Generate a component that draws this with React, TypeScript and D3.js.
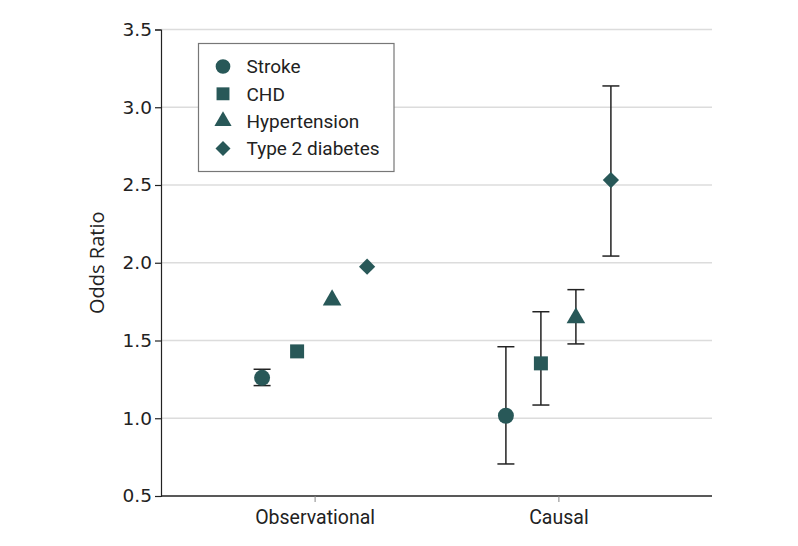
import React, { useEffect, useRef } from 'react';
import * as d3 from 'd3';

const groups = ['Observational', 'Causal'];
const outcomes = ['Stroke', 'CHD', 'Hypertension', 'Type 2 diabetes'];
const observationalOR = [1.26, 1.43, 1.76, 1.975];
const observationalLow = [1.21, null, null, null];
const observationalHigh = [1.315, null, null, null];
const causalOR = [1.016, 1.353, 1.645, 2.532];
const causalLow = [0.706, 1.085, 1.478, 2.043];
const causalHigh = [1.46, 1.685, 1.827, 3.137];
const yTicks = [0.5, 1.0, 1.5, 2.0, 2.5, 3.0, 3.5];

const MARK = '#285858';
const symbols = [d3.symbolCircle, d3.symbolSquare, d3.symbolTriangle, d3.symbolSquare];
const sizes = [200, 196, 150, 132];
const rotations = [0, 0, 0, 45];

const App: React.FC = () => {
  const svgRef = useRef<SVGSVGElement>(null);

  useEffect(() => {
    if (!svgRef.current) return;
    const svg = d3.select(svgRef.current);
    svg.selectAll('*').remove();

    const margin = { top: 29.5, right: 86, bottom: 50, left: 161 };
    const width = 798;
    const height = 546;

    const x = d3
      .scalePoint<string>()
      .domain(groups)
      .range([margin.left, width - margin.right])
      .padding(0.63);
    const y = d3.scaleLinear().domain([0.5, 3.5]).range([height - margin.bottom, margin.top]);
    const offset = d3.scalePoint<string>().domain(outcomes).range([-52.5, 52.5]);

    // gridlines
    svg
      .append('g')
      .selectAll('line')
      .data(yTicks.slice(1))
      .enter()
      .append('line')
      .attr('x1', margin.left)
      .attr('x2', width - margin.right)
      .attr('y1', (d) => y(d))
      .attr('y2', (d) => y(d))
      .attr('stroke', '#dcdcdc')
      .attr('stroke-width', 1.5);

    // y axis
    const yAxis = svg
      .append('g')
      .attr('transform', `translate(${margin.left},0)`)
      .call(d3.axisLeft(y).tickValues(yTicks).tickFormat(d3.format('.1f')).tickSize(6).tickPadding(3));
    yAxis.select('.domain').attr('stroke', '#222').attr('stroke-width', 1.2);
    yAxis.selectAll('.tick line').attr('stroke', '#222').attr('stroke-width', 1.2);
    yAxis
      .selectAll('.tick text')
      .attr('font-family', 'DejaVu Sans')
      .attr('font-size', 18.5)
      .attr('fill', '#222');

    // x axis
    const xAxis = svg
      .append('g')
      .attr('transform', `translate(0,${height - margin.bottom})`)
      .call(d3.axisBottom(x).tickSize(6).tickSizeOuter(0).tickPadding(8));
    xAxis
      .select('.domain')
      .attr('stroke', '#222')
      .attr('stroke-width', 1.5)
      .attr('d', `M${margin.left},0H${width - margin.right}`);
    xAxis.selectAll('.tick line').attr('stroke', '#888');
    xAxis
      .selectAll('.tick text')
      .attr('font-family', 'Roboto')
      .attr('font-size', 19.5)
      .attr('fill', '#222');

    svg
      .append('text')
      .attr('transform', `translate(104,${(margin.top + height - margin.bottom) / 2}) rotate(-90)`)
      .attr('text-anchor', 'middle')
      .attr('font-family', 'Open Sans')
      .attr('font-size', 20)
      .attr('fill', '#222')
      .text('Odds Ratio');

    const series = [
      { group: 'Observational', or: observationalOR, lo: observationalLow, hi: observationalHigh },
      { group: 'Causal', or: causalOR, lo: causalLow, hi: causalHigh },
    ];

    series.forEach((s) => {
      const g = svg.append('g');
      outcomes.forEach((o, i) => {
        const cx = (x(s.group) || 0) + (offset(o) || 0);
        const lo = s.lo[i];
        const hi = s.hi[i];
        if (lo != null && hi != null) {
          g.append('line')
            .attr('x1', cx)
            .attr('x2', cx)
            .attr('y1', y(lo))
            .attr('y2', y(hi))
            .attr('stroke', '#222')
            .attr('stroke-width', 1.5);
          [lo, hi].forEach((v) => {
            g.append('line')
              .attr('x1', cx - 8.5)
              .attr('x2', cx + 8.5)
              .attr('y1', y(v))
              .attr('y2', y(v))
              .attr('stroke', '#222')
              .attr('stroke-width', 1.5);
          });
        }
        g.append('path')
          .attr('d', d3.symbol().type(symbols[i]).size(sizes[i])() || '')
          .attr('transform', `translate(${cx},${y(s.or[i])}) rotate(${rotations[i]})`)
          .attr('fill', MARK);
      });
    });

    // legend
    const legend = svg.append('g').attr('transform', 'translate(198.5,43.5)');
    legend
      .append('rect')
      .attr('width', 195.5)
      .attr('height', 128)
      .attr('fill', '#fff')
      .attr('stroke', '#777')
      .attr('stroke-width', 1.2);
    outcomes.forEach((o, i) => {
      const ly = 23 + i * 27.3;
      legend
        .append('path')
        .attr('d', d3.symbol().type(symbols[i]).size(sizes[i] * 0.85)() || '')
        .attr('transform', `translate(24.5,${ly}) rotate(${rotations[i]})`)
        .attr('fill', MARK);
      legend
        .append('text')
        .attr('x', 48)
        .attr('y', ly)
        .attr('dy', '0.36em')
        .attr('font-family', 'Roboto')
        .attr('font-size', 19)
        .attr('fill', '#222')
        .text(o);
    });
  }, []);

  return (
    <svg
      ref={svgRef}
      width={798}
      height={546}
      style={{ position: 'absolute', left: 0, top: 0, background: '#fff' }}
    ></svg>
  );
};

export default App;
